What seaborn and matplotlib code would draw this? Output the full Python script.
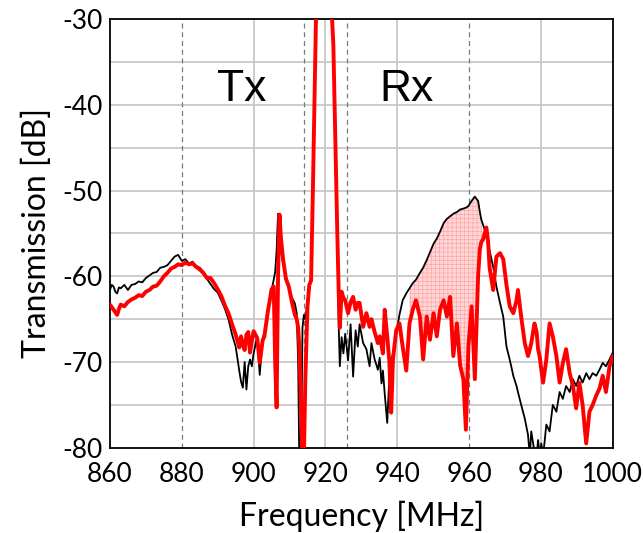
import numpy as np
import pandas as pd
import matplotlib
matplotlib.use("Agg")
import matplotlib.pyplot as plt
import seaborn as sns

# Frequency points (MHz)
freq = [860, 860.5, 861, 861.5, 862, 862.5, 863, 864, 865, 866, 867, 868, 869, 870, 871, 872, 873, 874,
        875, 876, 877, 878, 879, 880, 881, 882, 883, 884, 885, 886,
        887, 888, 889, 890, 891, 892, 893, 894, 895, 896, 896.5, 897, 897.5, 898, 898.5, 899, 899.5,
        900, 901, 901.7, 902.5, 903, 904, 904.5, 905, 905.6, 906, 906.4, 906.8, 907.2, 907.6, 908.2,
        909, 909.8, 910.7, 911.5, 912, 912.4, 912.7, 913.2, 913.6, 914, 914.4, 915, 915.5, 916,
        916.5, 917, 917.4, 918, 920, 921.5, 922.2, 922.8, 923.3, 923.7, 924, 924.5, 925, 925.5,
        926.3, 927, 927.7, 928.4, 929, 929.5, 930.5, 931.4, 932.3, 932.8, 933.7, 934.6, 935.1,
        935.6, 936, 936.5, 937.2, 937.8, 938.3, 938.8, 939.7, 940.6, 941.5, 942.5, 943.4, 944.3,
        945.2, 946.3, 947.2, 948.2, 949.1, 950.1, 951, 951.9, 952.9, 953.8, 954.7, 955.6, 956.6,
        957.5, 958.4, 959.1, 959.8, 960.7, 961.6, 962.1, 962.5, 963, 963.4, 963.9, 964.8, 965.3,
        965.7, 966.7, 967.6, 968.6, 969.5, 970.4, 971.3, 972.3, 973.2, 973.6, 974.5, 975.5, 976.4,
        976.9, 977.3, 978.2, 978.8, 979.2, 979.7, 980.1, 980.6, 981.5, 982.4, 983.3, 984.3, 985.2,
        986.1, 987, 988, 988.9, 989.8, 990.7, 991.6, 992.6, 993.5, 994.4, 995.4, 996.3, 997.2,
        998.1, 999.1, 1000]

# Black trace (dB)
black = [-61.6, -61.0, -61.2, -61.8, -62.0, -61.3, -61.4, -61.0, -61.6, -61.0, -60.9, -60.6, -60.7, -60.2,
         -59.9, -59.6, -59.5, -59.0, -58.9, -58.7, -58.2, -57.7, -57.5, -58.2, -58.0, -58.5, -58.3, -58.8,
         -59.0, -59.5,
         -60.3, -60.9, -61.5, -61.9, -62.8, -63.8, -65.0, -66.8, -68.2, -71.0, -72.3, -73.0, -70.0, -73.2,
         -70.5, -69.7, -70.5, -69.0, -67.0, -71.5, -67.3, -66.5, -64.0, -63.0, -61.6, -60.4, -59.5, -57.0,
         -52.7, -53.2, -56.5, -58.5, -60.0, -61.2, -62.5, -63.2, -64.3, -70.0, -81.0, -81.0, -66.0, -64.5,
         -65.0, -63.0, -61.6, -60.0, -50.0, -38.0, -29.0, -26.0, -25.0, -27.0, -33.0, -45.0, -55.0, -66.0,
         -70.5, -67.1, -69.0, -66.7, -69.8, -65.6, -71.7, -66.3, -68.2, -65.6, -67.8, -68.5, -70.5, -67.8,
         -69.7, -70.9, -69.5, -72.5, -71.0, -73.7, -77.1, -71.7, -70.0, -69.0, -66.7, -64.5, -62.8, -62.0,
         -61.4, -60.8, -60.4, -59.6, -59.0, -58.1, -57.2, -56.2, -55.6, -54.8, -53.8, -53.3, -53.0, -52.7,
         -52.5, -52.2, -52.1, -52.0, -51.8, -51.2, -50.7, -51.0, -51.2, -52.5, -53.4, -54.0, -55.2, -56.5,
         -57.0, -58.9, -61.2, -63.1, -64.7, -68.2, -69.7, -71.6, -72.8, -73.5, -75.0, -76.6, -78.5, -81.0,
         -78.1, -80.5, -81.0, -79.1, -81.0, -79.5, -81.0, -77.3, -78.1, -75.0, -75.8, -73.5, -74.3, -72.8,
         -73.5, -72.0, -72.8, -71.6, -72.4, -71.3, -72.0, -71.3, -71.6, -70.9, -70.1, -70.5, -69.7, -68.9]

# Red trace (dB)
red = [-63.3, -63.6, -63.9, -64.2, -64.5, -63.8, -63.3, -63.5, -63.0, -62.7, -62.5, -62.2, -62.3, -61.8,
       -61.6, -61.2, -61.1, -60.6, -60.0, -59.6, -59.1, -58.9, -58.6, -58.7, -58.4, -58.6, -58.5, -58.9,
       -59.2, -59.6,
       -60.2, -60.2, -60.8, -61.5, -62.3, -63.4, -64.3, -65.6, -66.8, -68.3, -67.0, -68.0, -68.6, -66.8,
       -66.5, -68.9, -67.5, -66.4, -67.2, -70.1, -67.5, -67.0, -64.0, -62.8, -61.5, -61.2, -70.0, -75.3,
       -60.0, -52.8, -55.5, -58.0, -60.3, -61.2, -63.1, -64.5, -65.0, -66.0, -68.0, -75.0, -81.0, -81.0,
       -72.0, -63.5, -61.0, -60.5, -50.0, -38.0, -29.0, -26.0, -25.0, -27.0, -33.0, -45.0, -55.0, -62.0,
       -66.0, -61.8, -62.5, -62.8, -64.3, -63.0, -62.4, -63.9, -63.1, -63.1, -65.9, -64.3, -65.9, -65.0,
       -66.5, -67.8, -67.0, -68.0, -69.0, -63.9, -67.0, -70.0, -75.9, -69.7, -66.3, -65.5, -68.2, -71.0,
       -65.5, -63.9, -62.8, -64.7, -69.7, -64.7, -67.4, -64.3, -67.0, -63.9, -62.8, -64.7, -62.4, -69.3,
       -65.5, -70.4, -72.0, -77.9, -68.2, -63.5, -72.0, -65.1, -60.0, -56.8, -56.0, -55.7, -54.3, -56.0,
       -59.0, -61.6, -57.7, -57.3, -58.0, -61.0, -63.5, -64.3, -62.8, -61.6, -64.7, -67.8, -69.3, -68.5,
       -67.8, -65.5, -66.5, -68.5, -69.5, -70.9, -72.4, -69.7, -65.5, -67.0, -69.3, -72.4, -70.1, -68.5,
       -71.3, -72.8, -75.4, -72.4, -75.0, -79.5, -75.8, -75.0, -73.9, -73.1, -71.6, -73.5, -70.5, -69.3]

# Marker lines (dashed) and band labels
band_edges = [880, 914, 926, 960]
band_labels = ["Tx", "Rx"]
band_label_x = [896.7, 942.7]

df = pd.DataFrame({"Frequency": freq, "Black": black, "Red": red})

sns.set_style("white")
plt.rcParams["font.family"] = ["Lato", "DejaVu Sans"]
plt.rcParams["axes.unicode_minus"] = False
plt.rcParams["text.color"] = "black"
plt.rcParams["axes.labelcolor"] = "black"
plt.rcParams["xtick.color"] = "black"
plt.rcParams["ytick.color"] = "black"
plt.rcParams["hatch.linewidth"] = 0.4
plt.rcParams["hatch.color"] = "#ff9d9d"

fig = plt.figure(figsize=(6.43, 5.33), dpi=100)
ax = fig.add_axes([0.171, 0.16, 0.782, 0.804])

# grid
for x in [900, 920, 940, 980]:
    ax.axvline(x, color="#c8c8c8", lw=1.3, zorder=0)
for y in np.arange(-75, -30, 5):
    ax.axhline(y, color="#c8c8c8", lw=1.3, zorder=0)
for x in band_edges:
    ax.axvline(x, color="#7a7a7a", lw=0.9, ls=(0, (4, 3)), zorder=1)

# shaded Rx gap
f = np.array(freq)
b = np.array(black)
r = np.array(red)
mask = (f >= 943) & (f <= 963.6)
ax.fill_between(f, r, b, where=mask & (b > r), interpolate=True,
                facecolor="#ffd6d6", edgecolor="#ff9d9d", hatch="++++", lw=0, zorder=2)

sns.lineplot(data=df, x="Frequency", y="Black", color="black", lw=1.3, ax=ax,
             estimator=None, sort=False, zorder=3)
sns.lineplot(data=df, x="Frequency", y="Red", color="#ff0000", lw=2.8, ax=ax,
             estimator=None, sort=False, zorder=4)

for lbl, x in zip(band_labels, band_label_x):
    ax.text(x, -38.2, lbl, fontsize=32, ha="center", va="center", color="black",
            family=["Liberation Sans", "DejaVu Sans"])

ax.set_xlim(860, 1000)
ax.set_ylim(-80, -30)
ax.set_xticks(range(860, 1001, 20))
ax.set_yticks(range(-80, -29, 10))
ax.tick_params(labelsize=19, length=0)
ax.tick_params(axis="x", pad=10)
ax.tick_params(axis="y", pad=5)
ax.set_xlabel("Frequency [MHz]", fontsize=23, labelpad=10)
ax.set_ylabel("Transmission [dB]", fontsize=23, labelpad=8)
for s in ax.spines.values():
    s.set_color("black")
    s.set_linewidth(1.3)

fig.savefig("out.png", dpi=100)
